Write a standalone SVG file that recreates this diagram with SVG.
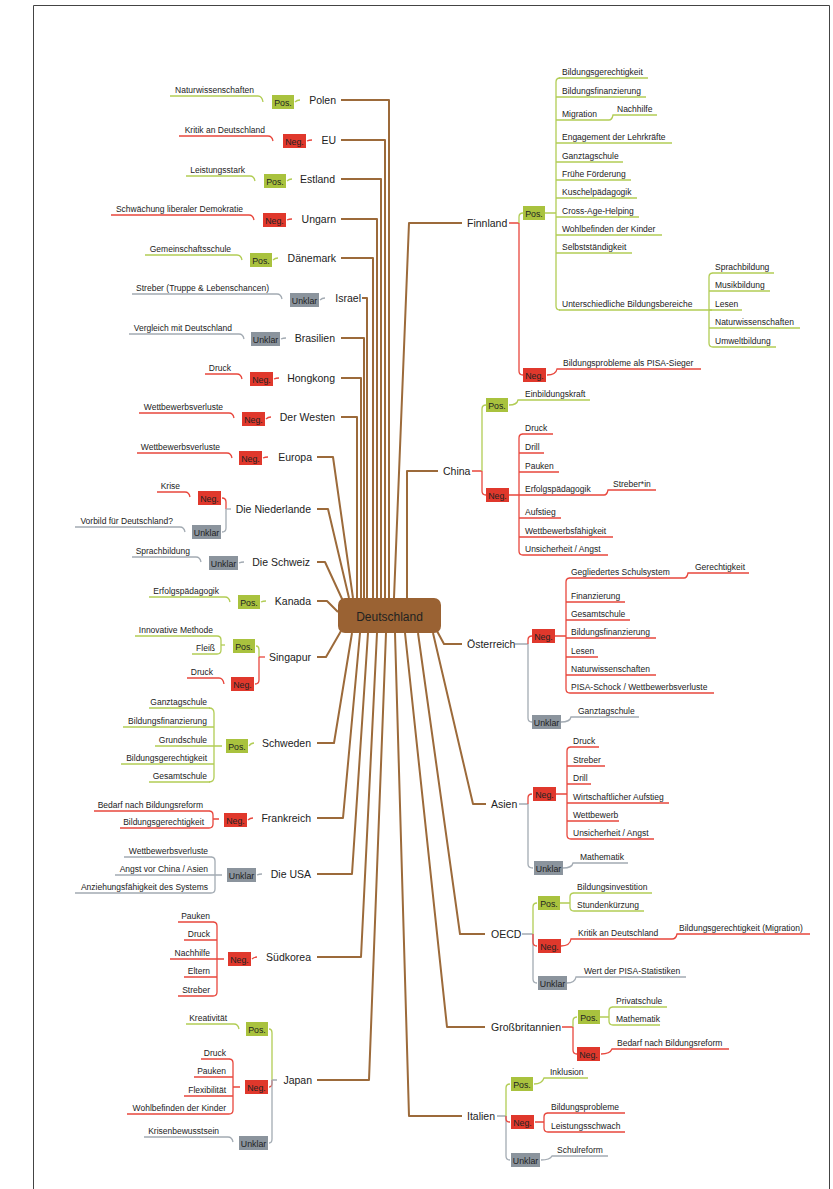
<svg xmlns="http://www.w3.org/2000/svg" width="833" height="1189" viewBox="0 0 833 1189">
<style>
.b{fill:none;stroke:#9C6A3A;stroke-width:2;stroke-linejoin:round}
.g{fill:none;stroke:#B2CD55;stroke-width:1.3}
.r{fill:none;stroke:#E8473D;stroke-width:1.3}
.k{fill:none;stroke:#A3ABB3;stroke-width:1.3}
.tp{fill:#A9C23E}.tn{fill:#E0382C}.tu{fill:#8B949D}
text{font-family:"Liberation Sans",Arial,sans-serif;fill:#222}
.l{font-size:8.5px}
.le{font-size:8.5px;text-anchor:end}
.c{font-size:10.5px}
.ce{font-size:10.5px;text-anchor:end}
.tg{font-size:8.8px;text-anchor:middle}
</style>
<rect x="0" y="0" width="833" height="1189" fill="#fff"/>
<path d="M33.5,1189 V5.5 H829.5 V1189" fill="none" stroke="#444" stroke-width="1"/>

<g id="connectors">
<g id="main-links">
<path class="b" d="M341,100 H389 V598"/>
<path class="b" d="M341,140 H385 V598"/>
<path class="b" d="M341,179 H381 V598"/>
<path class="b" d="M341,219 H377 V598"/>
<path class="b" d="M341,258 H373 V598"/>
<path class="b" d="M362,298 H367 V598"/>
<path class="b" d="M341,338 H364 V598"/>
<path class="b" d="M341,378 H361 V598"/>
<path class="b" d="M341,417 H357 V598"/>
<path class="b" d="M317,457 H333 L353,598"/>
<path class="b" d="M317,509 H328 L349,598"/>
<path class="b" d="M317,562 H325 L343,601"/>
<path class="b" d="M317,601 H327 L338,612"/>
<path class="b" d="M317,657 H326 L341,631"/>
<path class="b" d="M317,743 H334 L352,633"/>
<path class="b" d="M317,818 H343 L360,633"/>
<path class="b" d="M317,874 H352 L368,633"/>
<path class="b" d="M317,957 H361 L377,633"/>
<path class="b" d="M317,1080 H369 L386,633"/>
<path class="b" d="M395,633 L409,1116 H462"/>
<path class="b" d="M405,633 L447,1027 H485"/>
<path class="b" d="M418,633 L460,934 H485"/>
<path class="b" d="M433,633 L473,804 H486"/>
<path class="b" d="M437,631 L444,644 H462"/>
<path class="b" d="M407,598 V471 H438"/>
<path class="b" d="M394,598 L409,223 H462"/>
</g>
<g id="leaf-links-left">
<path class="g" d="M295,102 Q297,100 300,100"/><path class="g" d="M170,96 H258 Q262,96 263,102"/>
<path class="r" d="M307,141 Q309,140 312,140"/><path class="r" d="M179,136 H268 Q272,136 273,141"/>
<path class="g" d="M287,181 Q289,179 292,179"/><path class="g" d="M186,176 H250 Q254,176 255,181"/>
<path class="r" d="M287,220 Q289,219 292,219"/><path class="r" d="M111,215 H249 Q253,215 254,220"/>
<path class="g" d="M273,260 Q275,258 278,258"/><path class="g" d="M145,255 H237 Q241,255 242,260"/>
<path class="k" d="M320,300 Q322,298 325,298"/><path class="k" d="M132,294 H277 Q281,294 282,299"/>
<path class="k" d="M281,339 Q283,338 286,338"/><path class="k" d="M129,334 H239 Q243,334 244,339"/>
<path class="r" d="M274,379 Q276,378 279,378"/><path class="r" d="M205,374 H237 Q241,374 242,379"/>
<path class="r" d="M266,419 Q268,417 271,417"/><path class="r" d="M139,413 H229 Q233,413 234,418"/>
<path class="r" d="M263,458 Q265,457 268,457"/><path class="r" d="M137,453 H227 Q231,453 232,458"/>
<path class="r" d="M157,492 H185 Q189,492 190,497"/><path class="k" d="M75,527 H180 Q184,527 185,532"/>
<path class="r" d="M222,498 Q226,498 226,502 V509"/><path class="k" d="M226,509 V528 Q226,532 222,532"/><path class="k" d="M226,509 H231"/>
<path class="k" d="M239,563 Q241,562 244,562"/><path class="k" d="M132,557 H196 Q200,557 201,562"/>
<path class="g" d="M261,602 Q263,601 266,601"/><path class="g" d="M149,597 H225 Q229,597 230,602"/>
<path class="g" d="M135,636 H217 Q221,636 221,640 V650 Q221,654 217,654 H192"/><path class="g" d="M221,645 H225"/>
<path class="r" d="M187,678 H219 Q223,678 224,684"/>
<path class="g" d="M256,646 Q259,646 259,650 V657"/><path class="r" d="M259,657 V680 Q259,684 255,684"/><path class="r" d="M259,657 H265"/>
<path class="g" d="M249,746 Q251,743 254,743"/>
<path class="g" d="M209,708 Q214,708 214,713 V777 Q214,782 209,782"/>
<path class="g" d="M149,708 H210 M123,727 H214 M155,746 H222 M121,764 H214 M149,782 H210"/>
<path class="r" d="M248,820 Q250,818 253,818"/>
<path class="r" d="M209,811 Q213,811 213,815 V824 Q213,828 209,828 M94,811 H210 M120,828 H210 M213,819 H219"/>
<path class="k" d="M257,875 Q259,874 262,874"/>
<path class="k" d="M211,857 Q215,857 215,861 V889 Q215,893 211,893 M124,857 H212 M115,875 H222 M75,893 H212"/>
<path class="r" d="M252,959 Q254,957 257,957"/>
<path class="r" d="M213,922 Q217,922 217,926 V992 Q217,996 213,996 M178,922 H214 M184,940 H217 M170,959 H224 M184,977 H217 M178,996 H214"/>
<path class="g" d="M186,1024 H234 Q238,1024 239,1029"/>
<path class="r" d="M229,1059 Q233,1059 233,1063 V1110 Q233,1114 229,1114 M201,1059 H230 M194,1077 H233 M184,1096 H233 M127,1114 H230 M233,1087 H240"/>
<path class="k" d="M144,1137 H228 Q232,1137 233,1142"/>
<path class="g" d="M269,1029 Q272,1029 272,1033 V1080"/><path class="r" d="M272,1080 V1083 Q272,1087 269,1087"/><path class="k" d="M272,1080 V1139 Q272,1143 269,1143 M272,1080 H277"/>
</g>
<g id="leaf-links-right">
<path class="r" d="M509,223 H519 M519,223 V371 Q519,375 523,375"/><path class="g" d="M519,223 V217 Q519,213 523,213"/>
<path class="g" d="M545,213 H556 M560,78 Q556,78 556,82 V306 Q556,310 560,310"/>
<path class="g" d="M559,78 H648 M556,97 H646 M556,120 H609 Q612,120 613,115 H657 M556,143 H672 M556,162 H623 M556,180 H631 M556,198 H637 M556,217 H639 M556,235 H662 M556,253 H632 M559,310 H712"/>
<path class="g" d="M713,273 Q709,273 709,277 V343 Q709,347 713,347 M712,273 H774 M709,291 H770 M709,310 H742 M709,328 H800 M712,347 H776"/>
<path class="r" d="M547,375 Q556,375 557,369 H701"/>
<path class="r" d="M472,471 H482 M482,471 V491 Q482,495 486,495"/><path class="g" d="M482,471 V409 Q482,405 486,405"/>
<path class="g" d="M509,405 Q517,405 518,400 H590"/>
<path class="r" d="M509,495 H519 M523,434 Q519,434 519,438 V551 Q519,555 523,555 M522,434 H553 M519,453 H544 M519,472 H559 M519,495 H604 Q607,495 608,490 H656 M519,518 H561 M519,537 H613 M522,555 H608"/>
<path class="k" d="M515,644 H528 M528,644 V718 Q528,722 532,722"/><path class="r" d="M528,644 V640 Q528,636 532,636"/>
<path class="r" d="M555,636 H566 M570,578 Q566,578 566,582 V689 Q566,693 570,693 M569,578 H684 Q687,578 688,573 H749 M566,602 H625 M566,620 H630 M566,638 H656 M566,657 H598 M566,675 H656 M569,693 H714"/>
<path class="k" d="M561,722 Q570,722 571,717 H639"/>
<path class="k" d="M519,804 H528 M528,804 V864 Q528,868 533,868"/><path class="r" d="M528,804 V798 Q528,794 532,794"/>
<path class="r" d="M556,794 H567 M571,747 Q567,747 567,751 V835 Q567,839 571,839 M570,747 H599 M567,766 H605 M567,784 H591 M567,803 H669 M567,821 H619 M570,839 H654"/>
<path class="k" d="M563,868 Q572,868 573,863 H628"/>
<path class="k" d="M522,934 H533 M533,934 V979 Q533,983 537,983"/><path class="g" d="M533,934 V907 Q533,903 537,903"/><path class="r" d="M533,934 V942 Q533,946 537,946"/>
<path class="g" d="M560,903 H570 M574,893 Q570,893 570,897 V907 Q570,911 574,911 M573,893 H652 M573,911 H644"/>
<path class="r" d="M561,946 Q570,946 571,939 H672 Q676,939 677,934 H810"/>
<path class="k" d="M567,983 Q575,983 576,977 H686"/>
<path class="r" d="M562,1027 H573 M573,1027 V1050 Q573,1054 577,1054"/><path class="g" d="M573,1027 V1021 Q573,1017 577,1017"/>
<path class="g" d="M600,1017 H609 M613,1007 Q609,1007 609,1011 V1021 Q609,1025 613,1025 M612,1007 H667 M612,1025 H660"/>
<path class="r" d="M601,1054 Q610,1054 612,1049 H729"/>
<path class="k" d="M497,1116 H506 M506,1116 V1156 Q506,1160 510,1160"/><path class="g" d="M506,1116 V1088 Q506,1084 510,1084"/><path class="r" d="M506,1116 V1119 Q506,1122 510,1122"/>
<path class="g" d="M534,1084 Q542,1084 544,1078 H588"/>
<path class="r" d="M535,1122 H544 M548,1113 Q544,1113 544,1117 V1128 Q544,1132 548,1132 M547,1113 H625 M547,1132 H625"/>
<path class="k" d="M541,1160 Q550,1160 552,1156 H608"/>
</g>
</g>

<g id="deutschland">
<rect x="338" y="598" width="103" height="35" rx="7" fill="#9A6233"/>
<text x="389.5" y="620.5" text-anchor="middle" style="font-size:12px">Deutschland</text>
</g>

<g id="polen"><text class="ce" x="336" y="104">Polen</text><rect class="tp" x="272" y="95" width="22" height="14"/><text class="tg" x="283" y="105.5">Pos.</text><text class="le" x="254" y="92.5">Naturwissenschaften</text></g>
<g id="eu"><text class="ce" x="336" y="144">EU</text><rect class="tn" x="283" y="134" width="23" height="14"/><text class="tg" x="294.5" y="144.5">Neg.</text><text class="le" x="265" y="132.5">Kritik an Deutschland</text></g>
<g id="estland"><text class="ce" x="335" y="183">Estland</text><rect class="tp" x="264" y="174" width="22" height="14"/><text class="tg" x="275" y="184.5">Pos.</text><text class="le" x="245" y="172.5">Leistungsstark</text></g>
<g id="ungarn"><text class="ce" x="336" y="223">Ungarn</text><rect class="tn" x="263" y="213" width="23" height="14"/><text class="tg" x="274.5" y="223.5">Neg.</text><text class="le" x="243" y="211.5">Schwächung liberaler Demokratie</text></g>
<g id="daenemark"><text class="ce" x="336" y="262">Dänemark</text><rect class="tp" x="250" y="253" width="22" height="14"/><text class="tg" x="261" y="263.5">Pos.</text><text class="le" x="231" y="251.5">Gemeinschaftsschule</text></g>
<g id="israel"><text class="ce" x="361" y="302">Israel</text><rect class="tu" x="290" y="293" width="29" height="14"/><text class="tg" x="304.5" y="303.5">Unklar</text><text class="le" x="269" y="290.5">Streber (Truppe &amp; Lebenschancen)</text></g>
<g id="brasilien"><text class="ce" x="335" y="342">Brasilien</text><rect class="tu" x="251" y="332" width="29" height="14"/><text class="tg" x="265.5" y="342.5">Unklar</text><text class="le" x="232" y="330.5">Vergleich mit Deutschland</text></g>
<g id="hongkong"><text class="ce" x="335" y="382">Hongkong</text><rect class="tn" x="250" y="372" width="23" height="14"/><text class="tg" x="261.5" y="382.5">Neg.</text><text class="le" x="231" y="370.5">Druck</text></g>
<g id="derwesten"><text class="ce" x="335" y="421">Der Westen</text><rect class="tn" x="242" y="412" width="23" height="14"/><text class="tg" x="253.5" y="422.5">Neg.</text><text class="le" x="223" y="409.5">Wettbewerbsverluste</text></g>
<g id="europa"><text class="ce" x="312" y="461">Europa</text><rect class="tn" x="239" y="451" width="23" height="14"/><text class="tg" x="250.5" y="461.5">Neg.</text><text class="le" x="220" y="449.5">Wettbewerbsverluste</text></g>
<g id="niederlande"><text class="ce" x="311" y="513">Die Niederlande</text><rect class="tn" x="198" y="491" width="23" height="14"/><text class="tg" x="209.5" y="501.5">Neg.</text><rect class="tu" x="192" y="525" width="29" height="14"/><text class="tg" x="206.5" y="535.5">Unklar</text><text class="le" x="180" y="488.5">Krise</text><text class="le" x="173" y="523.5">Vorbild für Deutschland?</text></g>
<g id="schweiz"><text class="ce" x="310" y="566">Die Schweiz</text><rect class="tu" x="209" y="556" width="29" height="14"/><text class="tg" x="223.5" y="566.5">Unklar</text><text class="le" x="190" y="553.5">Sprachbildung</text></g>
<g id="kanada"><text class="ce" x="311" y="605">Kanada</text><rect class="tp" x="238" y="595" width="22" height="14"/><text class="tg" x="249" y="605.5">Pos.</text><text class="le" x="219" y="593.5">Erfolgspädagogik</text></g>
<g id="singapur"><text class="ce" x="311" y="661">Singapur</text><rect class="tp" x="233" y="639" width="22" height="14"/><text class="tg" x="244" y="649.5">Pos.</text><rect class="tn" x="231" y="677" width="23" height="14"/><text class="tg" x="242.5" y="687.5">Neg.</text><text class="le" x="213" y="632.5">Innovative Methode</text><text class="le" x="215" y="650.5">Fleiß</text><text class="le" x="213" y="674.5">Druck</text></g>
<g id="schweden"><text class="ce" x="311" y="747">Schweden</text><rect class="tp" x="226" y="739" width="22" height="14"/><text class="tg" x="237" y="749.5">Pos.</text><text class="le" x="207" y="704.5">Ganztagschule</text><text class="le" x="207" y="723.5">Bildungsfinanzierung</text><text class="le" x="207" y="742.5">Grundschule</text><text class="le" x="207" y="760.5">Bildungsgerechtigkeit</text><text class="le" x="207" y="778.5">Gesamtschule</text></g>
<g id="frankreich"><text class="ce" x="311" y="822">Frankreich</text><rect class="tn" x="224" y="813" width="23" height="14"/><text class="tg" x="235.5" y="823.5">Neg.</text><text class="le" x="203" y="807.5">Bedarf nach Bildungsreform</text><text class="le" x="204" y="824.5">Bildungsgerechtigkeit</text></g>
<g id="usa"><text class="ce" x="311" y="878">Die USA</text><rect class="tu" x="227" y="868" width="29" height="14"/><text class="tg" x="241.5" y="878.5">Unklar</text><text class="le" x="208" y="853.5">Wettbewerbsverluste</text><text class="le" x="208" y="871.5">Angst vor China / Asien</text><text class="le" x="208" y="889.5">Anziehungsfähigkeit des Systems</text></g>
<g id="suedkorea"><text class="ce" x="311" y="961">Südkorea</text><rect class="tn" x="228" y="952" width="23" height="14"/><text class="tg" x="239.5" y="962.5">Neg.</text><text class="le" x="210" y="918.5">Pauken</text><text class="le" x="210" y="936.5">Druck</text><text class="le" x="210" y="955.5">Nachhilfe</text><text class="le" x="210" y="973.5">Eltern</text><text class="le" x="210" y="992.5">Streber</text></g>
<g id="japan"><text class="ce" x="312" y="1084">Japan</text><rect class="tp" x="246" y="1022" width="22" height="14"/><text class="tg" x="257" y="1032.5">Pos.</text><rect class="tn" x="245" y="1080" width="23" height="14"/><text class="tg" x="256.5" y="1090.5">Neg.</text><rect class="tu" x="239" y="1136" width="29" height="14"/><text class="tg" x="253.5" y="1146.5">Unklar</text><text class="le" x="227" y="1020.5">Kreativität</text><text class="le" x="226" y="1055.5">Druck</text><text class="le" x="226" y="1073.5">Pauken</text><text class="le" x="226" y="1092.5">Flexibilität</text><text class="le" x="226" y="1110.5">Wohlbefinden der Kinder</text><text class="le" x="219" y="1133.5">Krisenbewusstsein</text></g>

<g id="finnland"><text class="c" x="467" y="227">Finnland</text><rect class="tp" x="523" y="206" width="22" height="14"/><text class="tg" x="534" y="216.5">Pos.</text><rect class="tn" x="523" y="368" width="23" height="14"/><text class="tg" x="534.5" y="378.5">Neg.</text>
<text class="l" x="562" y="74.5">Bildungsgerechtigkeit</text><text class="l" x="562" y="93.5">Bildungsfinanzierung</text><text class="l" x="562" y="116.5">Migration</text><text class="l" x="617" y="111.5">Nachhilfe</text><text class="l" x="562" y="139.5">Engagement der Lehrkräfte</text><text class="l" x="562" y="158.5">Ganztagschule</text><text class="l" x="562" y="176.5">Frühe Förderung</text><text class="l" x="562" y="194.5">Kuschelpädagogik</text><text class="l" x="562" y="213.5">Cross-Age-Helping</text><text class="l" x="562" y="231.5">Wohlbefinden der Kinder</text><text class="l" x="562" y="249.5">Selbstständigkeit</text><text class="l" x="562" y="306.5">Unterschiedliche Bildungsbereiche</text>
<text class="l" x="715" y="269.5">Sprachbildung</text><text class="l" x="715" y="287.5">Musikbildung</text><text class="l" x="715" y="306.5">Lesen</text><text class="l" x="715" y="324.5">Naturwissenschaften</text><text class="l" x="715" y="343.5">Umweltbildung</text>
<text class="l" x="563" y="365.5">Bildungsprobleme als PISA-Sieger</text></g>
<g id="china"><text class="c" x="443" y="475">China</text><rect class="tp" x="486" y="398" width="22" height="14"/><text class="tg" x="497" y="408.5">Pos.</text><rect class="tn" x="486" y="488" width="23" height="14"/><text class="tg" x="497.5" y="498.5">Neg.</text>
<text class="l" x="525" y="396.5">Einbildungskraft</text><text class="l" x="525" y="430.5">Druck</text><text class="l" x="525" y="449.5">Drill</text><text class="l" x="525" y="468.5">Pauken</text><text class="l" x="525" y="491.5">Erfolgspädagogik</text><text class="l" x="613" y="486.5">Streber*in</text><text class="l" x="525" y="514.5">Aufstieg</text><text class="l" x="525" y="533.5">Wettbewerbsfähigkeit</text><text class="l" x="525" y="551.5">Unsicherheit / Angst</text></g>
<g id="oesterreich"><text class="c" x="467" y="648">Österreich</text><rect class="tn" x="532" y="629" width="23" height="14"/><text class="tg" x="543.5" y="639.5">Neg.</text><rect class="tu" x="532" y="715" width="29" height="14"/><text class="tg" x="546.5" y="725.5">Unklar</text>
<text class="l" x="571" y="574.5">Gegliedertes Schulsystem</text><text class="l" x="695" y="569.5">Gerechtigkeit</text><text class="l" x="571" y="598.5">Finanzierung</text><text class="l" x="571" y="616.5">Gesamtschule</text><text class="l" x="571" y="634.5">Bildungsfinanzierung</text><text class="l" x="571" y="653.5">Lesen</text><text class="l" x="571" y="671.5">Naturwissenschaften</text><text class="l" x="571" y="689.5">PISA-Schock / Wettbewerbsverluste</text><text class="l" x="578" y="713.5">Ganztagschule</text></g>
<g id="asien"><text class="c" x="491" y="808">Asien</text><rect class="tn" x="533" y="787" width="23" height="14"/><text class="tg" x="544.5" y="797.5">Neg.</text><rect class="tu" x="534" y="861" width="29" height="14"/><text class="tg" x="548.5" y="871.5">Unklar</text>
<text class="l" x="573" y="743.5">Druck</text><text class="l" x="573" y="762.5">Streber</text><text class="l" x="573" y="780.5">Drill</text><text class="l" x="573" y="799.5">Wirtschaftlicher Aufstieg</text><text class="l" x="573" y="817.5">Wettbewerb</text><text class="l" x="573" y="835.5">Unsicherheit / Angst</text><text class="l" x="580" y="859.5">Mathematik</text></g>
<g id="oecd"><text class="c" x="491" y="938">OECD</text><rect class="tp" x="538" y="896" width="22" height="14"/><text class="tg" x="549" y="906.5">Pos.</text><rect class="tn" x="538" y="939" width="23" height="14"/><text class="tg" x="549.5" y="949.5">Neg.</text><rect class="tu" x="538" y="976" width="29" height="14"/><text class="tg" x="552.5" y="986.5">Unklar</text>
<text class="l" x="577" y="889.5">Bildungsinvestition</text><text class="l" x="577" y="907.5">Stundenkürzung</text><text class="l" x="578" y="935.5">Kritik an Deutschland</text><text class="l" x="679" y="930.5">Bildungsgerechtigkeit (Migration)</text><text class="l" x="584" y="973.5">Wert der PISA-Statistiken</text></g>
<g id="grossbritannien"><text class="c" x="491" y="1031">Großbritannien</text><rect class="tp" x="578" y="1010" width="22" height="14"/><text class="tg" x="589" y="1020.5">Pos.</text><rect class="tn" x="577" y="1047" width="23" height="14"/><text class="tg" x="588.5" y="1057.5">Neg.</text>
<text class="l" x="616" y="1003.5">Privatschule</text><text class="l" x="616" y="1021.5">Mathematik</text><text class="l" x="617" y="1045.5">Bedarf nach Bildungsreform</text></g>
<g id="italien"><text class="c" x="467" y="1120">Italien</text><rect class="tp" x="511" y="1077" width="22" height="14"/><text class="tg" x="522" y="1087.5">Pos.</text><rect class="tn" x="511" y="1115" width="23" height="14"/><text class="tg" x="522.5" y="1125.5">Neg.</text><rect class="tu" x="511" y="1153" width="29" height="14"/><text class="tg" x="525.5" y="1163.5">Unklar</text>
<text class="l" x="550" y="1074.5">Inklusion</text><text class="l" x="551" y="1109.5">Bildungsprobleme</text><text class="l" x="551" y="1128.5">Leistungsschwach</text><text class="l" x="557" y="1152.5">Schulreform</text></g>
</svg>
